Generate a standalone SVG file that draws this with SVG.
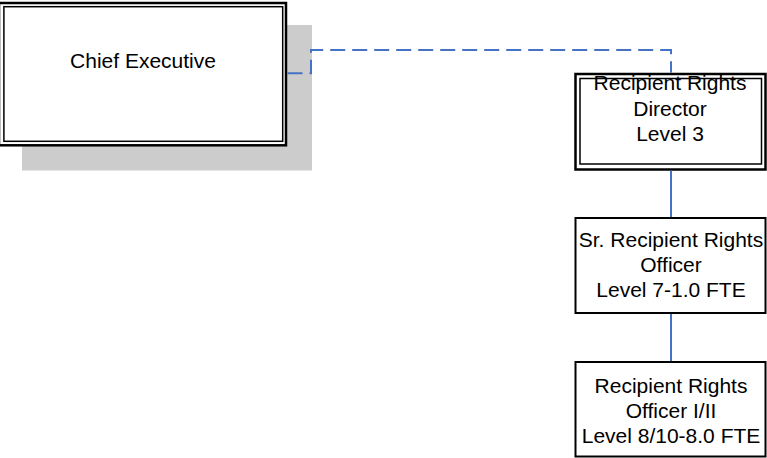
<svg xmlns="http://www.w3.org/2000/svg" width="767" height="458" viewBox="0 0 767 458">
<style>
  .t { font-family: "Liberation Sans", Arial, sans-serif; font-size: 21px; fill: #000; text-anchor: middle; }
  .outer { fill: #fff; stroke: #000; stroke-width: 2.5; }
  .inner { fill: none; stroke: #000; stroke-width: 1.5; }
  .box { fill: #fff; stroke: #000; stroke-width: 2; }
  .conn { fill: none; stroke: #4472C4; stroke-width: 2; }
</style>
<rect width="767" height="458" fill="#fff"/>
<g id="chief-executive">
  <rect x="22" y="25" width="290" height="145.5" fill="#cccccc"/>
  <rect class="outer" x="-1" y="3" width="287" height="142.3"/>
  <rect class="inner" x="3.9" y="6.7" width="278.8" height="134.6"/>
  <text class="t" x="143" y="68">Chief Executive</text>
</g>
<g id="director">
  <rect class="outer" x="575.5" y="74" width="190" height="95.5"/>
  <rect class="inner" x="580" y="78.5" width="181.5" height="85.5"/>
  <text class="t" x="670" y="90">Recipient Rights</text>
  <text class="t" x="670" y="116">Director</text>
  <text class="t" x="670" y="141">Level 3</text>
</g>
<g id="sr-officer">
  <rect class="box" x="575.5" y="218" width="190" height="95"/>
  <text class="t" x="671" y="247">Sr. Recipient Rights</text>
  <text class="t" x="671" y="272">Officer</text>
  <text class="t" x="671" y="297">Level 7-1.0 FTE</text>
</g>
<g id="officer">
  <rect class="box" x="575.5" y="362" width="190" height="94.5"/>
  <text class="t" x="671" y="393">Recipient Rights</text>
  <text class="t" x="671" y="418">Officer I/II</text>
  <text class="t" x="671" y="443">Level 8/10-8.0 FTE</text>
</g>
<g id="connectors">
  <path class="conn" stroke-dasharray="15 7" d="M287.5,73.3 H311 V50 H671 V72.7"/>
  <path class="conn" d="M671,170.8 V217"/>
  <path class="conn" d="M671,314 V361"/>
</g>
</svg>
